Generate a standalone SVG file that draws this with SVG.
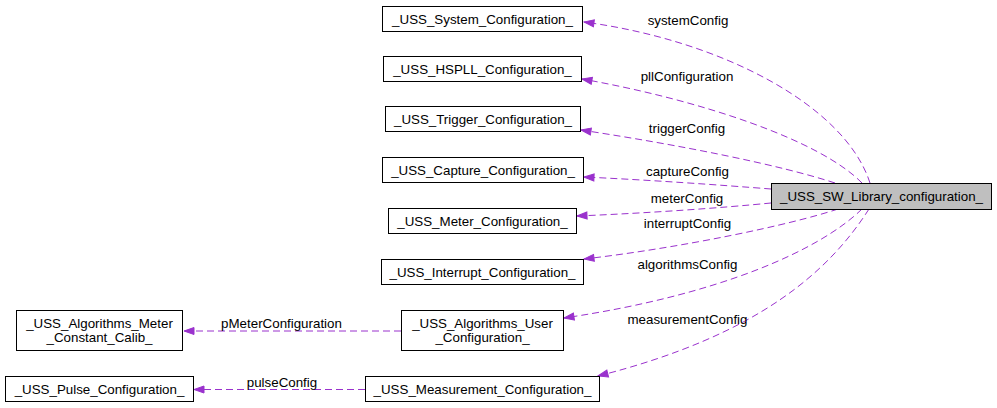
<svg xmlns="http://www.w3.org/2000/svg" width="997" height="408" viewBox="0 0 997 408">
<style>
  .box{fill:#ffffff;stroke:#000000;stroke-width:1}
  .main{fill:#bfbfbf;stroke:#000000;stroke-width:1}
  .t{font-family:"Liberation Sans",Arial,Helvetica,sans-serif;font-size:13.33px;fill:#000000;text-anchor:middle}
  .e{fill:none;stroke:#9a32cd;stroke-width:1;stroke-dasharray:7,4}
</style>
<defs>
  <marker id="arr" markerUnits="userSpaceOnUse" markerWidth="12" markerHeight="9" refX="11" refY="4.5" orient="auto">
    <path d="M1,1 L11,4.5 L1,8 z" fill="#9a32cd" stroke="#9a32cd" stroke-width="1"/>
  </marker>
</defs>
<rect width="997" height="408" fill="#ffffff"/>

<g id="edges">
  <path class="e" marker-end="url(#arr)" d="M870,183 C845,105 720,40 584,22"/>
  <text class="t" x="688" y="25">systemConfig</text>
  <path class="e" marker-end="url(#arr)" d="M862,183 C820,140 700,100 582,79"/>
  <text class="t" x="687" y="81">pllConfiguration</text>
  <path class="e" marker-end="url(#arr)" d="M835,183 C780,165 680,145 581,130"/>
  <text class="t" x="687" y="133">triggerConfig</text>
  <path class="e" marker-end="url(#arr)" d="M771,189 C720,185 650,180 584,177"/>
  <text class="t" x="687.5" y="176">captureConfig</text>
  <path class="e" marker-end="url(#arr)" d="M771,203 C720,208 650,213 577,216"/>
  <text class="t" x="687" y="203">meterConfig</text>
  <path class="e" marker-end="url(#arr)" d="M838,209 C790,225 680,248 584,259"/>
  <text class="t" x="687.5" y="228">interruptConfig</text>
  <path class="e" marker-end="url(#arr)" d="M862,209 C820,250 720,295 564,318"/>
  <text class="t" x="687.5" y="269">algorithmsConfig</text>
  <path class="e" marker-end="url(#arr)" d="M869,209 C830,270 760,335 598,376"/>
  <text class="t" x="687.5" y="324">measurementConfig</text>
  <path class="e" marker-end="url(#arr)" d="M401,331 L184,331"/>
  <text class="t" x="281.5" y="328">pMeterConfiguration</text>
  <path class="e" marker-end="url(#arr)" d="M365,389.5 L194,389.5"/>
  <text class="t" x="282" y="387">pulseConfig</text>
</g>

<g id="n_sw">
  <rect class="main" x="771.5" y="183.5" width="220" height="26"/>
  <text class="t" x="881.5" y="201">_USS_SW_Library_configuration_</text>
</g>
<g id="n_system">
  <rect class="box" x="382.5" y="6.5" width="200" height="25"/>
  <text class="t" x="482.5" y="23.5">_USS_System_Configuration_</text>
</g>
<g id="n_hspll">
  <rect class="box" x="383.5" y="56.5" width="198" height="25"/>
  <text class="t" x="482.5" y="73.5">_USS_HSPLL_Configuration_</text>
</g>
<g id="n_trigger">
  <rect class="box" x="385.5" y="106.5" width="195" height="25"/>
  <text class="t" x="483" y="123.5">_USS_Trigger_Configuration_</text>
</g>
<g id="n_capture">
  <rect class="box" x="382.5" y="157.5" width="201" height="25"/>
  <text class="t" x="483" y="174.5">_USS_Capture_Configuration_</text>
</g>
<g id="n_meter">
  <rect class="box" x="388.5" y="208.5" width="188" height="25"/>
  <text class="t" x="482.5" y="225.5">_USS_Meter_Configuration_</text>
</g>
<g id="n_interrupt">
  <rect class="box" x="381.5" y="259.5" width="202" height="25"/>
  <text class="t" x="482.5" y="276.5">_USS_Interrupt_Configuration_</text>
</g>
<g id="n_alguser">
  <rect class="box" x="401.5" y="310.5" width="162" height="40"/>
  <text class="t" x="482.5" y="327.5">_USS_Algorithms_User</text>
  <text class="t" x="482.5" y="341.5">_Configuration_</text>
</g>
<g id="n_algmeter">
  <rect class="box" x="16.5" y="310.5" width="166" height="40"/>
  <text class="t" x="99.5" y="327.5">_USS_Algorithms_Meter</text>
  <text class="t" x="99.5" y="341.5">_Constant_Calib_</text>
</g>
<g id="n_pulse">
  <rect class="box" x="5.5" y="376.5" width="188" height="25"/>
  <text class="t" x="99.5" y="393.5">_USS_Pulse_Configuration_</text>
</g>
<g id="n_measurement">
  <rect class="box" x="365.5" y="376.5" width="234" height="25"/>
  <text class="t" x="482.5" y="393.5">_USS_Measurement_Configuration_</text>
</g>
</svg>
